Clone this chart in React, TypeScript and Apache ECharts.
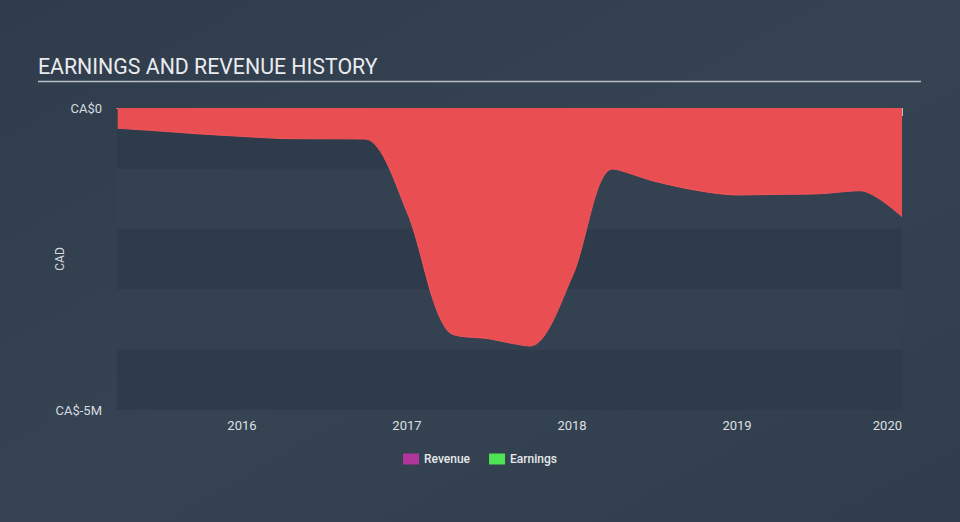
import React, { useEffect, useRef } from "react";
import * as echarts from "echarts";

const dates: string[] = [
  "2015-03-31", "2015-06-30", "2015-09-30", "2015-12-31",
  "2016-03-31", "2016-06-30", "2016-09-30", "2016-12-31",
  "2017-03-31", "2017-06-30", "2017-09-30", "2017-12-31",
  "2018-03-31", "2018-06-30", "2018-09-30", "2018-12-31",
  "2019-03-31", "2019-06-30", "2019-09-30", "2019-12-31",
];
const earnings: number[] = [
  -0.336, -0.38, -0.43, -0.47,
  -0.505, -0.51, -0.515, -1.72,
  -3.69, -3.82, -3.94, -2.8,
  -1.01, -1.21, -1.36, -1.44,
  -1.43, -1.42, -1.37, -1.8,
];
const revenue: number[] = [];
const yearTicks: number[] = [2016, 2017, 2018, 2019, 2020];

// convert an ISO date to a fractional year (end of the day)
const toYear = (d: string) => {
  const t = Date.parse(d + "T00:00:00Z") + 86400000;
  const y = new Date(t).getUTCFullYear();
  const s = Date.UTC(y, 0, 1);
  const e = Date.UTC(y + 1, 0, 1);
  return y + (t - s) / (e - s);
};

export default function App() {
  const ref = useRef<HTMLDivElement>(null);
  useEffect(() => {
    if (!ref.current) return;
    const chart = echarts.init(ref.current, undefined, { renderer: "svg" });
    chart.setOption({
      animation: false,
      backgroundColor: {
        type: "linear", x: 0, y: 0, x2: 1, y2: 1,
        colorStops: [
          { offset: 0, color: "#303c4b" },
          { offset: 0.5, color: "#354352" },
          { offset: 1, color: "#313d4c" },
        ],
      },
      title: {
        text: "EARNINGS AND REVENUE HISTORY",
        left: 38,
        top: 56,
        padding: 0,
        textStyle: {
          color: "#e9ebee",
          fontSize: 21.3,
          fontWeight: "normal",
          fontFamily: "Roboto",
        },
      },
      graphic: [
        {
          type: "line",
          shape: { x1: 38, y1: 81.5, x2: 921, y2: 81.5 },
          style: { stroke: "#b9bec6", lineWidth: 1.5 },
        },
      ],
      legend: {
        bottom: 52,
        left: "center",
        icon: "rect",
        itemWidth: 16,
        itemHeight: 11,
        itemGap: 19,
        textStyle: { color: "#e6e8eb", fontSize: 12, fontFamily: "Roboto", fontWeight: 500 },
        data: [
          { name: "Revenue", itemStyle: { color: "#b0369b" } },
          { name: "Earnings", itemStyle: { color: "#4fe356" } },
        ],
        selectedMode: false,
      },
      grid: { left: 117, right: 58, top: 108, bottom: 112 },
      xAxis: {
        type: "value",
        min: toYear(dates[0]) - 0.004,
        max: 2020,
        axisLine: { show: true, lineStyle: { color: "#b8bec7", width: 1 } },
        axisTick: {
          show: true,
          customValues: yearTicks,
          length: 8,
          lineStyle: { color: "#b8bec7" },
        },
        axisLabel: {
          customValues: yearTicks,
          color: "#dde0e4",
          fontSize: 13,
          fontFamily: "Roboto",
          margin: 9,
          alignMaxLabel: "right",
          formatter: (v: number) => String(Math.round(v)),
        },
        splitLine: { show: false },
      },
      yAxis: {
        type: "value",
        min: -5,
        max: 0,
        interval: 1,
        name: "CAD",
        nameLocation: "middle",
        nameGap: 51,
        nameMoveOverlap: false,
        nameTextStyle: { color: "#d7dae0", fontSize: 12, fontFamily: "Roboto" },
        axisLine: { show: false },
        axisTick: { show: false },
        axisLabel: {
          color: "#d7dae0",
          fontSize: 13,
          fontFamily: "Roboto",
          margin: 15,
          formatter: (v: number) => (v === 0 ? "CA$0" : v === -5 ? "CA$-5M" : ""),
        },
        splitLine: { show: false },
        splitArea: {
          show: true,
          areaStyle: { color: ["#2e3b4a", "#344150"] },
        },
      },
      series: [
        {
          name: "Revenue",
          type: "line",
          data: revenue,
          color: "#b0369b",
        },
        {
          name: "Earnings",
          type: "line",
          color: "#4fe356",
          smooth: 0.3,
          symbol: "none",
          lineStyle: { color: "#f2565b", width: 1 },
          areaStyle: { color: "#e94f52", opacity: 1, origin: "end" },
          data: dates.map((d, i) => [toYear(d), earnings[i]]),
        },
      ],
    });
    return () => chart.dispose();
  }, []);
  return <div ref={ref} style={{ width: 960, height: 522, position: "fixed", left: 0, top: 0 }} />;
}
